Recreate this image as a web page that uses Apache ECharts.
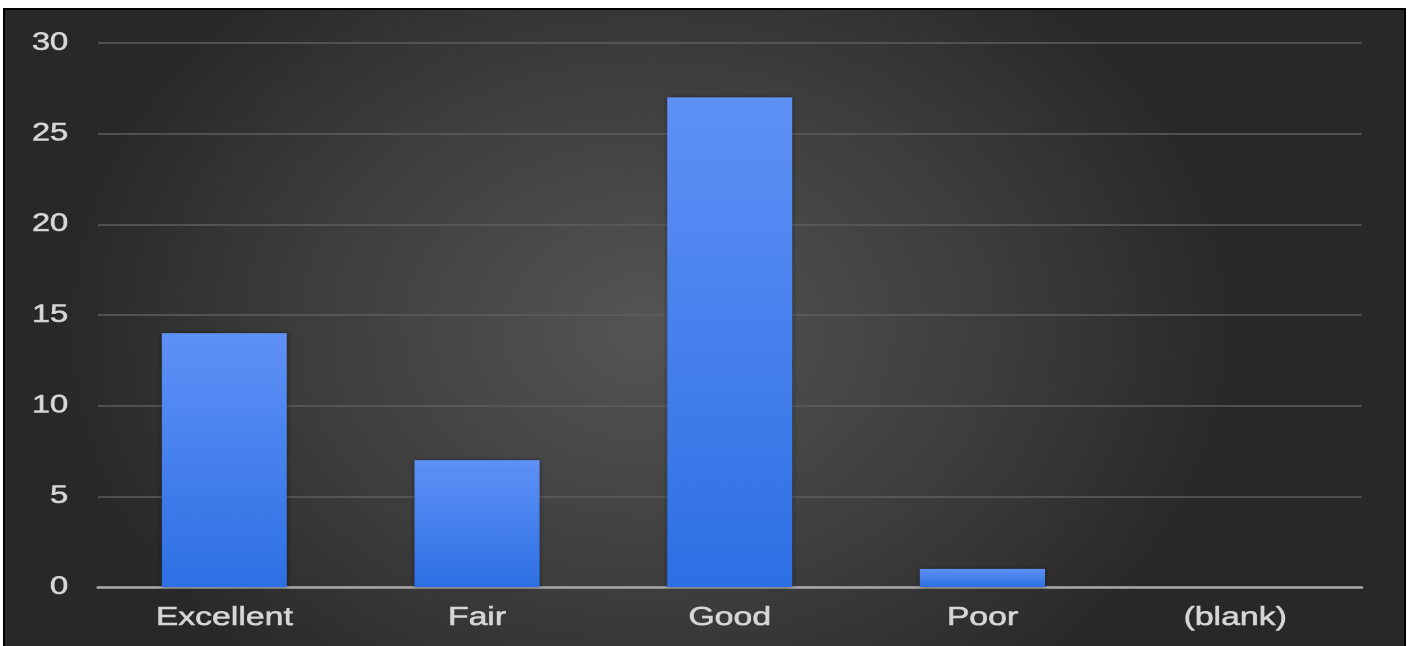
<!DOCTYPE html>
<html>
<head>
<meta charset="utf-8">
<script src="https://cdn.jsdelivr.net/npm/echarts@6/dist/echarts.min.js"></script>
<style>
  html, body { margin: 0; padding: 0; background: #ffffff; width: 1408px; height: 646px; overflow: hidden; }
  #frame { position: absolute; left: 3px; top: 8px; width: 1399px; height: 640px; border: 2px solid #000; border-bottom: none; background: #2b2b2b; overflow: hidden; }
  /* the chart is laid out narrower and widened by 1.3 so the lettering comes out broad */
  #chart { width: 1076px; height: 638px; transform: scaleX(1.3); transform-origin: 0 0; }
</style>
</head>
<body>
<div id="frame"><div id="chart"></div></div>
<script>
// Rating counts per category
const categories = ['Excellent', 'Fair', 'Good', 'Poor', '(blank)'];
const counts = [14, 7, 27, 1, 0];
const yTicks = { min: 0, max: 30, interval: 5 };

const chart = echarts.init(document.getElementById('chart'), null, { renderer: 'canvas', devicePixelRatio: 2 });

const labelFont = {
  color: '#d6d6d6',
  fontFamily: 'Liberation Sans, Arial, sans-serif',
  fontSize: 25,
  textBorderColor: '#d6d6d6',
  textBorderWidth: 0.6
};

chart.setOption({
  backgroundColor: {
    type: 'radial', x: 0.46, y: 0.5, r: 0.72,
    colorStops: [
      { offset: 0, color: '#555555' },
      { offset: 0.6, color: '#3c3c3c' },
      { offset: 1, color: '#282828' }
    ]
  },
  animation: false,
  grid: { left: 71.5, right: 32.5, top: 33, bottom: 61 },
  xAxis: {
    type: 'category',
    data: categories,
    axisLine: { lineStyle: { color: '#a9a9a9', width: 2.5, cap: 'round' } },
    axisTick: { show: false },
    axisLabel: Object.assign({}, labelFont, { margin: 18, fontSize: 26 })
  },
  yAxis: {
    type: 'value',
    min: yTicks.min, max: yTicks.max, interval: yTicks.interval,
    axisLine: { show: false },
    axisTick: { show: false },
    axisLabel: Object.assign({ margin: 23 }, labelFont),
    splitLine: { lineStyle: { color: '#5e5e5e', width: 1.5 } }
  },
  series: [{
    type: 'bar',
    data: counts,
    barWidth: '49.5%',
    itemStyle: {
      color: {
        type: 'linear', x: 0, y: 0, x2: 0, y2: 1,
        colorStops: [
          { offset: 0, color: '#5f91f6' },
          { offset: 1, color: '#2d70e4' }
        ]
      },
      shadowColor: 'rgba(0,0,0,0.45)',
      shadowBlur: 4
    }
  }]
});
</script>
</body>
</html>
